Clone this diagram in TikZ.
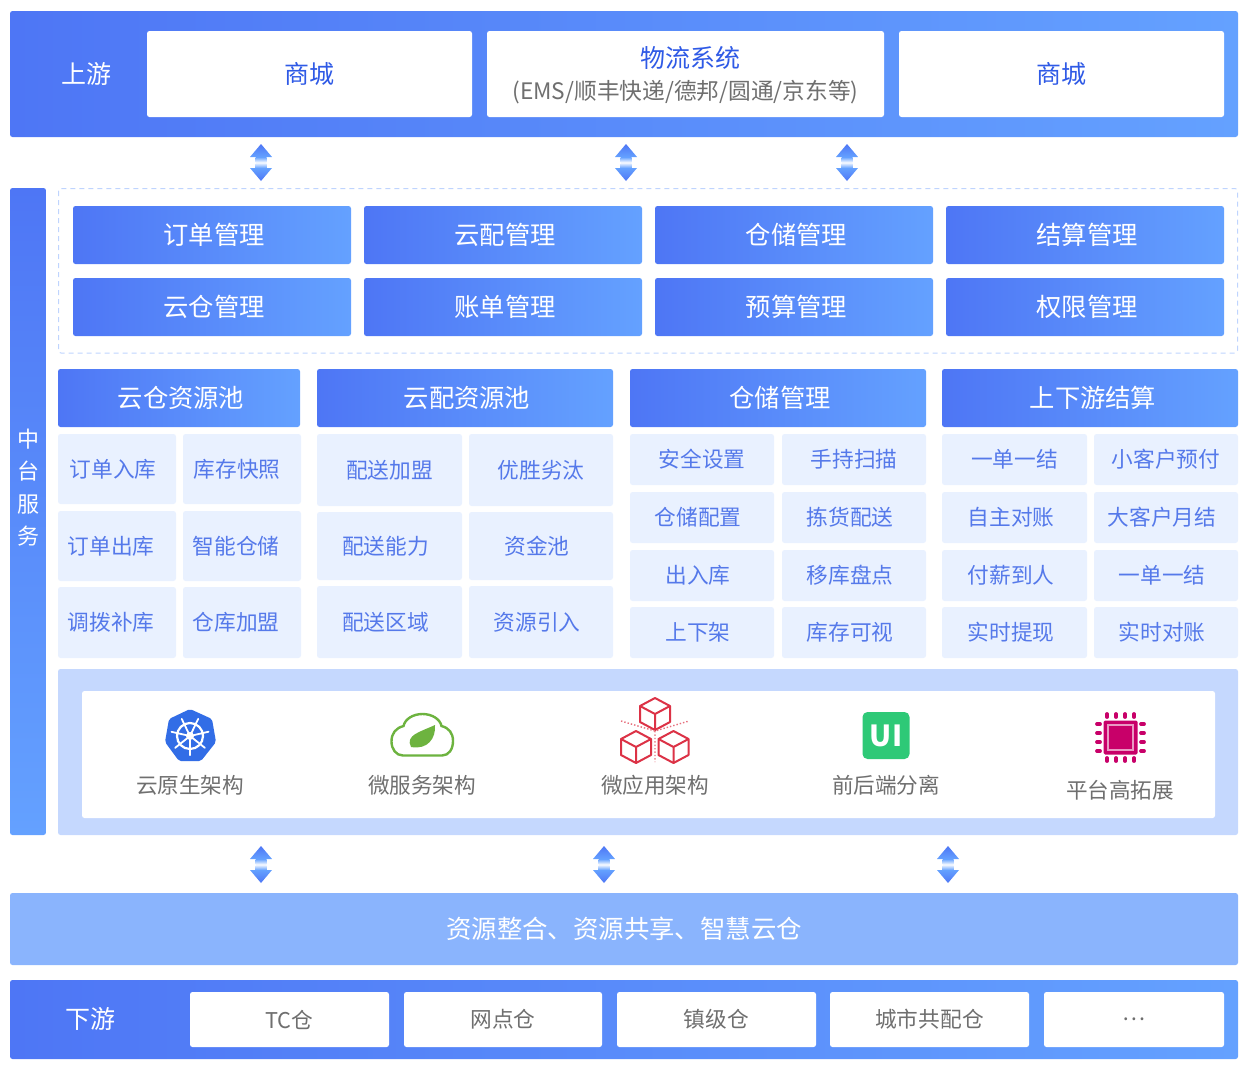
\documentclass[tikz,border=0pt]{standalone}
\usepackage{fontspec}
\setmainfont{Noto Sans CJK SC}
\usepackage{xcolor}
\usetikzlibrary{calc}

\definecolor{deepblue}{HTML}{4E76F5}
\definecolor{skyblue}{HTML}{64A1FF}
\definecolor{panelblue}{HTML}{C5D8FE}
\definecolor{barblue}{HTML}{8AB4FD}
\definecolor{cellblue}{HTML}{E9F1FF}
\definecolor{dashblue}{HTML}{BFD4FE}
\definecolor{inkblue}{HTML}{2F5AE6}
\definecolor{inkgray}{HTML}{6F6F6F}
\definecolor{cellink}{HTML}{5579EA}
\definecolor{wheelblue}{HTML}{326DE6}
\definecolor{leafgreen}{HTML}{6DB33F}
\definecolor{cubered}{HTML}{DC3246}
\definecolor{uigreen}{HTML}{2EC977}
\definecolor{chippink}{HTML}{C80069}

\tikzset{
	box/.style = {rectangle, rounded corners=2.5pt, inner sep=0pt, minimum width=#1},
	band/.style = {box=#1, left color=deepblue, right color=skyblue, text=white},
	whitebox/.style = {box=#1, fill=white, text=inkgray},
	cell/.style = {box=#1, fill=cellblue, text=cellink},
	syncarrow/.pic = {
		\shade [top color=deepblue, bottom color=skyblue] (0,0) -- (11,13) -- (-11,13) -- cycle;
		\shade [top color=skyblue, bottom color=skyblue!12] (-5.5,13) rectangle (5.5,18);
		\shade [top color=skyblue!12, bottom color=skyblue] (-5.5,19) rectangle (5.5,24);
		\shade [top color=skyblue, bottom color=deepblue] (11,24) -- (0,37) -- (-11,24) -- cycle;
	},
}

\begin{document}
\begin{tikzpicture}[x=1pt, y=-1pt]
	\useasboundingbox (0,0) rectangle (1252,1074);

	% upstream
	\node [band=1228, minimum height=126] (upstream) at (624,74) {};
	\node [text=white, font=\fontsize{25}{27}\selectfont] (uplabel) at (86,74) {上游};
	\node [whitebox=325, minimum height=86, text=inkblue, font=\fontsize{25}{27}\selectfont] (shop1) at (309.5,74) {商城};
	\node [whitebox=397, minimum height=86] (logistics) at (685.5,74) {};
	\node [text=inkblue, font=\fontsize{25}{27}\selectfont] (logisticsname) at (690,58) {物流系统};
	\node [text=inkgray, font=\fontsize{22.7}{25}\selectfont] (logisticsnote) at (685.5,92) {(EMS/顺丰快递/德邦/圆通/京东等)};
	\node [whitebox=325, minimum height=86, text=inkblue, font=\fontsize{25}{27}\selectfont] (shop2) at (1061.5,74) {商城};

	\coordinate (syncA) at (261,144);
	\coordinate (syncB) at (626,144);
	\coordinate (syncC) at (847,144);
	\pic at (syncA) {syncarrow};
	\pic at (syncB) {syncarrow};
	\pic at (syncC) {syncarrow};

	% middle platform
	\node [box=36, minimum height=647, top color=deepblue, bottom color=skyblue] (platform) at (28,511.5) {};
	\node [text=white, align=center, font=\fontsize{22}{32.3}\selectfont] (platformname) at (28,487.5) {中\\台\\服\\务};
	\draw [dashblue, dash pattern=on 5pt off 4pt, line width=1pt, rounded corners=2.5pt] (58.5,188.5) rectangle (1237.5,353);

	\tikzset{every node/.append style={font=\fontsize{25.3}{27}\selectfont}}
	\node [band=278, minimum height=58] (orders) at (212,235) {\kern4pt 订单管理};
	\node [band=278, minimum height=58] (delivery) at (503,235) {\kern4pt 云配管理};
	\node [band=278, minimum height=58] (storage) at (794,235) {\kern5pt 仓储管理};
	\node [band=278, minimum height=58] (settle) at (1085,235) {\kern4pt 结算管理};
	\node [band=278, minimum height=58] (cloudstore) at (212,307) {\kern4pt 云仓管理};
	\node [band=278, minimum height=58] (bills) at (503,307) {\kern4pt 账单管理};
	\node [band=278, minimum height=58] (budget) at (794,307) {\kern5pt 预算管理};
	\node [band=278, minimum height=58] (rights) at (1085,307) {\kern4pt 权限管理};

	\node [band=242, minimum height=58] (poolA) at (179,398) {\kern4pt 云仓资源池};
	\node [band=296, minimum height=58] (poolB) at (465,398) {\kern4pt 云配资源池};
	\node [band=296, minimum height=58] (poolC) at (778,398) {\kern4pt 仓储管理};
	\node [band=296, minimum height=58] (poolD) at (1090,398) {\kern6pt 上下游结算};

	\tikzset{every node/.append style={font=\fontsize{21.7}{24}\selectfont}}
	% first pool
	\node [cell=118, minimum height=70] (a1) at (117,469) {\kern-8pt 订单入库};
	\node [cell=118, minimum height=70] (a2) at (242,469) {\kern-10pt 库存快照};
	\node [cell=118, minimum height=70] (a3) at (117,546) {\kern-12pt 订单出库};
	\node [cell=118, minimum height=70] (a4) at (242,546) {\kern-12pt 智能仓储};
	\node [cell=118, minimum height=71] (a5) at (117,622.5) {\kern-12pt 调拨补库};
	\node [cell=118, minimum height=71] (a6) at (242,622.5) {\kern-12pt 仓库加盟};
	% second pool
	\node [cell=145, minimum height=72] (b1) at (389.5,470) {配送加盟};
	\node [cell=144, minimum height=72] (b2) at (541,470) {优胜劣汰};
	\node [cell=145, minimum height=68] (b3) at (389.5,546) {\kern-8pt 配送能力};
	\node [cell=144, minimum height=68] (b4) at (541,546) {\kern-8pt 资金池};
	\node [cell=145, minimum height=72] (b5) at (389.5,622) {\kern-8pt 配送区域};
	\node [cell=144, minimum height=72] (b6) at (541,622) {\kern-8pt 资源引入};
	% third pool
	\node [cell=144, minimum height=51] (c1) at (702,459.5) {安全设置};
	\node [cell=144, minimum height=51] (c2) at (854,459.5) {手持扫描};
	\node [cell=144, minimum height=51] (c3) at (702,517.5) {\kern-8pt 仓储配置};
	\node [cell=144, minimum height=51] (c4) at (854,517.5) {\kern-8pt 拣货配送};
	\node [cell=144, minimum height=51] (c5) at (702,575.5) {\kern-8pt 出入库};
	\node [cell=144, minimum height=51] (c6) at (854,575.5) {\kern-8pt 移库盘点};
	\node [cell=144, minimum height=51] (c7) at (702,632.5) {\kern-8pt 上下架};
	\node [cell=144, minimum height=51] (c8) at (854,632.5) {\kern-8pt 库存可视};
	% fourth pool
	\node [cell=145, minimum height=51] (d1) at (1014.5,459.5) {一单一结};
	\node [cell=144, minimum height=51] (d2) at (1166,459.5) {小客户预付};
	\node [cell=145, minimum height=51] (d3) at (1014.5,517.5) {\kern-7pt 自主对账};
	\node [cell=144, minimum height=51] (d4) at (1166,517.5) {\kern-8pt 大客户月结};
	\node [cell=145, minimum height=51] (d5) at (1014.5,575.5) {\kern-7pt 付薪到人};
	\node [cell=144, minimum height=51] (d6) at (1166,575.5) {\kern-8pt 一单一结};
	\node [cell=145, minimum height=51] (d7) at (1014.5,632.5) {\kern-7pt 实时提现};
	\node [cell=144, minimum height=51] (d8) at (1166,632.5) {\kern-8pt 实时对账};

	% architecture panel
	\node [box=1180, minimum height=166, fill=panelblue] (panel) at (648,752) {};
	\node [box=1133, minimum height=127, fill=white] (panelin) at (648.5,754.5) {};

	\tikzset{archlabel/.style = {text=inkgray, font=\fontsize{21.6}{24}\selectfont}}
	\node [archlabel] (native) at (190,785) {云原生架构};
	\node [archlabel] (micro) at (422,785) {微服务架构};
	\node [archlabel] (microapp) at (655,785) {微应用架构};
	\node [archlabel] (split) at (886,785) {前后端分离};
	\node [archlabel] (scale) at (1120,790) {平台高拓展};

	% wheel icon
	\fill [wheelblue, rounded corners=2pt] (190,709) -- (212,719) -- (216,742) -- (201,761) -- (179,761) -- (165,742) -- (169,719) -- cycle;
	\draw [white, line width=2.2pt] (190,736) circle [radius=13];
	\foreach \a in {0,51.4,...,360}
		\draw [white, line width=1.8pt, line cap=round] (190,736) -- ++(\a+90:19);
	\fill [white] (190,736) circle [radius=4];

	% cloud with leaf icon
	\draw [leafgreen, line width=2.4pt] (403,755.5) .. controls (396,755.5) and (391.5,749) .. (391.5,741.5) .. controls (391.5,733) and (396,728) .. (403.5,726) .. controls (405,719) and (413,714) .. (422.5,714) .. controls (432,714) and (440,719) .. (441.5,726) .. controls (449,728) and (453,733) .. (453,741) .. controls (453,749) and (449,755.5) .. (442,755.5) -- cycle;
	\fill [leafgreen] (411,747) .. controls (405,735) and (420,732) .. (435,725) .. controls (436,738) and (428,750) .. (411,747) -- cycle;

	% cubes icon
	\tikzset{
		cube/.style = {cubered, line width=2pt, line join=round},
		cubelink/.style = {cubered!70, line width=1.4pt, dotted},
	}
	\foreach \cx/\cy in {655/714, 636/747, 673.5/747} {
		\draw [cube] (\cx,\cy-16) -- (\cx+15,\cy-8) -- (\cx+15,\cy+8) -- (\cx,\cy+16) -- (\cx-15,\cy+8) -- (\cx-15,\cy-8) -- cycle;
		\draw [cube] (\cx-15,\cy-8) -- (\cx,\cy) -- (\cx+15,\cy-8) (\cx,\cy) -- (\cx,\cy+16);
	}
	\draw [cubelink] (621,721) -- (655,731) -- (689,721) (655,731) -- (655,762);

	% UI icon
	\node [rectangle, rounded corners=5pt, minimum size=47, inner sep=0pt, fill=uigreen, text=white, font=\fontsize{29}{30}\selectfont\bfseries] (uitile) at (886,735.5) {UI};

	% chip icon
	\tikzset{chippin/.style = {chippink, line width=3.8pt, line cap=round}}
	\fill [chippink, rounded corners=1.5pt] (1103.5,720.5) rectangle (1137.5,754.5);
	\draw [white!60!chippink, line width=1.3pt] (1108,725) rectangle (1133,750);
	\foreach \t in {-13.5,-4.5,4.5,13.5} {
		\draw [chippin] (1120.5+\t,714) -- ++(0,3);
		\draw [chippin] (1120.5+\t,758) -- ++(0,3);
		\draw [chippin] (1097,737.5+\t) -- ++(3,0);
		\draw [chippin] (1141,737.5+\t) -- ++(3,0);
	}

	\coordinate (syncD) at (261,846);
	\coordinate (syncE) at (604,846);
	\coordinate (syncF) at (948,846);
	\pic at (syncD) {syncarrow};
	\pic at (syncE) {syncarrow};
	\pic at (syncF) {syncarrow};

	% resources
	\node [box=1228, minimum height=72, fill=barblue, text=white, font=\fontsize{25.4}{27}\selectfont] (resources) at (624,929) {资源整合、资源共享、智慧云仓};

	% downstream
	\node [band=1228, minimum height=79] (downstream) at (624,1019.5) {};
	\node [text=white, font=\fontsize{25}{27}\selectfont] (downlabel) at (90,1019) {下游};
	\node [whitebox=199, minimum height=55] (tc) at (289.5,1019.5) {TC仓};
	\node [whitebox=198, minimum height=55] (outlet) at (503,1019.5) {网点仓};
	\node [whitebox=199, minimum height=55] (town) at (716.5,1019.5) {镇级仓};
	\node [whitebox=199, minimum height=55] (citywh) at (929.5,1019.5) {城市共配仓};
	\node [whitebox=180, minimum height=55] (more) at (1134,1019.5) {…};
\end{tikzpicture}
\end{document}
